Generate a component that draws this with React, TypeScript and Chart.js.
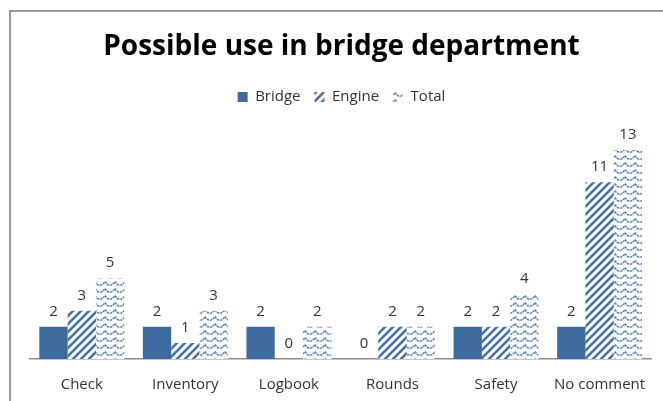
import React, { useEffect, useRef } from "react";
import { Chart, registerables } from "chart.js";

Chart.register(...registerables);

const categories = ["Check", "Inventory", "Logbook", "Rounds", "Safety", "No comment"];
const bridgeValues = [2, 2, 2, 0, 2, 2];
const engineValues = [3, 1, 0, 2, 2, 11];
const totalValues = [5, 3, 2, 2, 4, 13];
const seriesNames = ["Bridge", "Engine", "Total"];
const chartTitle = "Possible use in bridge department";

const FONT = "'Open Sans', 'Liberation Sans', sans-serif";

function makeStripes(): CanvasPattern | string {
  const c = document.createElement("canvas");
  c.width = 8;
  c.height = 8;
  const ctx = c.getContext("2d");
  if (!ctx) return "#4a76ad";
  ctx.fillStyle = "#ffffff";
  ctx.fillRect(0, 0, 8, 8);
  ctx.strokeStyle = "#4470a8";
  ctx.lineWidth = 2.6;
  ctx.beginPath();
  ctx.moveTo(-2, 10);
  ctx.lineTo(10, -2);
  ctx.moveTo(-6, 6);
  ctx.lineTo(6, -6);
  ctx.moveTo(2, 14);
  ctx.lineTo(14, 2);
  ctx.stroke();
  return ctx.createPattern(c, "repeat") as CanvasPattern;
}

function makeWaves(): CanvasPattern | string {
  const c = document.createElement("canvas");
  c.width = 10;
  c.height = 7;
  const ctx = c.getContext("2d");
  if (!ctx) return "#8aa8d4";
  ctx.fillStyle = "#ffffff";
  ctx.fillRect(0, 0, 10, 7);
  ctx.strokeStyle = "#4a7cc0";
  ctx.lineWidth = 1.5;
  ctx.setLineDash([2.2, 0.8]);
  ctx.beginPath();
  ctx.moveTo(-2.5, 4.5);
  ctx.lineTo(0, 5.5);
  ctx.lineTo(2.5, 4.5);
  ctx.lineTo(5, 1.8);
  ctx.lineTo(7.5, 4.5);
  ctx.lineTo(10, 5.5);
  ctx.lineTo(12.5, 4.5);
  ctx.stroke();
  return ctx.createPattern(c, "repeat") as CanvasPattern;
}

const framePlugin = {
  id: "frame",
  beforeDraw(chart: any) {
    const ctx = chart.ctx;
    ctx.save();
    ctx.fillStyle = "#ffffff";
    ctx.fillRect(0, 0, chart.width, chart.height);
    ctx.strokeStyle = "#9a9a9a";
    ctx.lineWidth = 2;
    ctx.beginPath();
    ctx.moveTo(10, chart.height + 2);
    ctx.lineTo(10, 11);
    ctx.lineTo(chart.width + 2, 11);
    ctx.stroke();
    ctx.restore();
  },
};

const valueLabelPlugin = {
  id: "valueLabels",
  afterDatasetsDraw(chart: any) {
    const ctx = chart.ctx;
    ctx.save();
    ctx.font = `15px ${FONT}`;
    ctx.fillStyle = "#333333";
    ctx.textAlign = "center";
    ctx.textBaseline = "bottom";
    chart.data.datasets.forEach((ds: any, i: number) => {
      const meta = chart.getDatasetMeta(i);
      meta.data.forEach((el: any, j: number) => {
        ctx.fillText(String(ds.data[j]), el.x, el.y - 8);
      });
    });
    ctx.restore();
  },
};

export default function App() {
  const ref = useRef<HTMLCanvasElement | null>(null);

  useEffect(() => {
    if (!ref.current) return;
    const stripes = makeStripes();
    const waves = makeWaves();
    const chart = new Chart(ref.current, {
      type: "bar",
      data: {
        labels: categories,
        datasets: [
          { label: seriesNames[0], data: bridgeValues, backgroundColor: "#3e6b9f", borderWidth: 0 },
          { label: seriesNames[1], data: engineValues, backgroundColor: stripes as any, borderWidth: 0 },
          { label: seriesNames[2], data: totalValues, backgroundColor: waves as any, borderWidth: 0 },
        ],
      },
      options: {
        animation: false,
        responsive: true,
        maintainAspectRatio: false,
        layout: { padding: { left: 30, right: 10, top: 10, bottom: 0 } },
        datasets: { bar: { categoryPercentage: 0.82, barPercentage: 1 } },
        plugins: {
          title: {
            display: true,
            text: chartTitle,
            color: "#000000",
            font: { family: FONT, size: 28, weight: "bold" },
            padding: { top: 20, bottom: 12 },
          },
          legend: {
            display: true,
            position: "top",
            labels: {
              boxWidth: 10,
              boxHeight: 10,
              color: "#333333",
              font: { family: FONT, size: 15 },
              padding: 14,
            },
          },
          tooltip: { enabled: false },
        },
        scales: {
          x: {
            grid: { display: false, drawTicks: false },
            border: { display: true, color: "#8c8c8c", width: 1.5 },
            ticks: { color: "#333333", font: { family: FONT, size: 15 }, padding: 17 },
            afterFit: (scale: any) => {
              scale.height = 42;
            },
          },
          y: {
            display: false,
            min: 0,
            max: 15.2,
          },
        },
      },
      plugins: [framePlugin, valueLabelPlugin],
    });
    return () => chart.destroy();
  }, []);

  return (
    <div style={{ position: "absolute", left: 0, top: 0, width: 663, height: 401 }}>
      <canvas ref={ref} />
    </div>
  );
}
